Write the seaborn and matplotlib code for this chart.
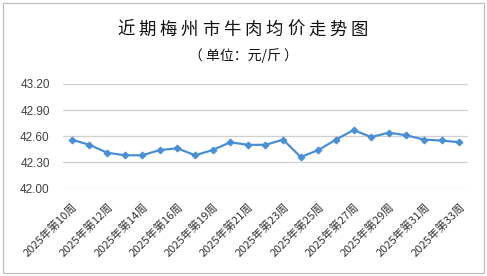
import matplotlib
matplotlib.use("Agg")
import matplotlib.pyplot as plt
import seaborn as sns
import pandas as pd
from matplotlib.patches import Rectangle

weeks = [10, 11, 12, 13, 14, 15, 16, 18, 19, 20, 21, 22, 23, 24, 25, 26, 27, 28, 29, 30, 31, 32, 33]
prices = [42.56, 42.50, 42.41, 42.38, 42.38, 42.44, 42.46, 42.38, 42.44, 42.53, 42.50,
          42.50, 42.56, 42.36, 42.44, 42.56, 42.67, 42.59, 42.64, 42.61, 42.56, 42.55, 42.53]
labels = [f"2025年第{w}周" for w in weeks]
yticks = [42.00, 42.30, 42.60, 42.90, 43.20]
title = "近期梅州市牛肉均价走势图"
subtitle = "（ 单位：元/斤 ）"

sns.set_theme(style="white")
plt.rcParams['font.family'] = ['Noto Sans CJK SC', 'DejaVu Sans']

df = pd.DataFrame({"idx": range(len(weeks)), "price": prices, "label": labels})

fig = plt.figure(figsize=(4.87, 2.76), dpi=100)
ax = fig.add_axes([63/487, 1-188.3/276, (468-63)/487, (188.3-84)/276])

sns.lineplot(data=df, x="idx", y="price", ax=ax, color="#4A8FD6", linewidth=1.6,
             marker="D", markersize=3.5, markeredgecolor="#4A8FD6", markerfacecolor="#4A8FD6")

ax.set_xlim(-0.5, len(weeks) - 0.5)
ax.set_ylim(42.0, 43.2)
ax.set_yticks(yticks)
ax.set_yticklabels([f"{v:.2f}" for v in yticks], fontsize=8.5, color="#404040",
                   family=['Liberation Sans'])
tick_idx = list(range(0, len(weeks), 2))
ax.set_xticks(tick_idx)
ax.set_xticklabels([labels[i] for i in tick_idx], rotation=45, ha="right",
                   rotation_mode="anchor", fontsize=8, color="#333333")
ax.tick_params(axis="x", length=0, pad=9)
ax.tick_params(axis="y", length=0, pad=9.5)
ax.grid(axis="y", color="#D0D0D0", linewidth=0.9)
ax.set_axisbelow(True)
for s in ax.spines.values():
    s.set_visible(False)
ax.set_xlabel("")
ax.set_ylabel("")

# title with wide letter spacing
n = len(title)
left, right = 115, 370
pitch = (right - left) / n
for i, ch in enumerate(title):
    cx = left + pitch * (i + 0.5)
    fig.text(cx / 487, 1 - 30/276, ch, ha="center", va="center", fontsize=12.5, color="#111111")
fig.text(243.5/487, 1 - 56/276, subtitle, ha="center", va="center", fontsize=10, color="#111111")

fig.patches.append(Rectangle((3/487, 3/276), 481/487, 270/276, transform=fig.transFigure,
                             fill=False, edgecolor="#BFBFBF", linewidth=0.9))

fig.savefig("out.png", dpi=100)
